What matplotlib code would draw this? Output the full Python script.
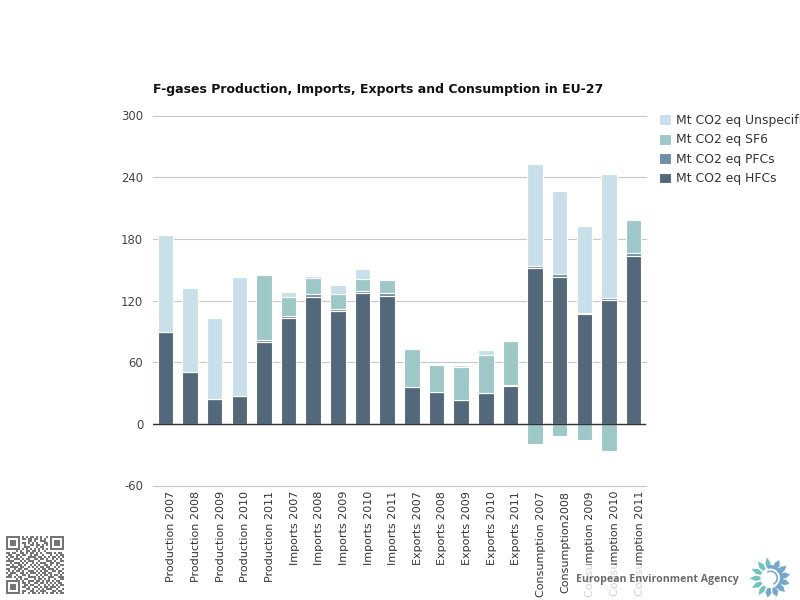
import matplotlib
matplotlib.use("Agg")
import matplotlib.pyplot as plt
import numpy as np

from matplotlib.patches import Circle, Polygon, Rectangle, Wedge
from matplotlib.transforms import ScaledTranslation

plt.rcParams["axes.unicode_minus"] = False

########################################################
# DATA
########################################################

categories = [
    "Production 2007", "Production 2008", "Production 2009", "Production 2010", "Production 2011",
    "Imports 2007", "Imports 2008", "Imports 2009", "Imports 2010", "Imports 2011",
    "Exports 2007", "Exports 2008", "Exports 2009", "Exports 2010", "Exports 2011",
    "Consumption 2007", "Consumption2008", "Consumption 2009", "Consumption 2010", "Consumption 2011",
]

hfcs = [89.3, 50.3, 24.0, 27.0, 79.5,
        103.0, 123.4, 109.7, 127.0, 124.4,
        35.7, 30.8, 23.0, 29.9, 36.7,
        151.6, 142.9, 106.8, 120.5, 163.3]
pfcs = [0.3, 0.3, 0.3, 0.3, 2.0,
        2.2, 3.2, 1.7, 2.0, 2.9,
        0.3, 0.3, 0.3, 0.3, 1.3,
        2.3, 3.1, 1.0, 1.9, 2.9]
sf6 = [0.0, 0.0, 0.0, 0.0, 63.0,
       17.8, 15.3, 14.9, 12.0, 12.3,
       36.4, 25.7, 31.6, 36.4, 42.2,
       -19.2, -11.4, -16.2, -26.0, 31.8]
unspecified = [93.8, 81.2, 78.3, 115.2, 0.0,
               5.0, 2.1, 8.4, 10.0, 0.0,
               1.0, 0.0, 2.6, 4.8, 0.0,
               98.7, 80.3, 84.4, 120.5, 0.0]

y_ticks = [-60, 0, 60, 120, 180, 240, 300]
series_names = ["Mt CO2 eq HFCs", "Mt CO2 eq PFCs", "Mt CO2 eq SF6", "Mt CO2 eq Unspecified"]

title_text = "F-gases Production, Imports, Exports and Consumption in EU-27"
agency_text = "European Environment Agency"

# rough QR pattern, one hex string per row of 29 blocks
qr_rows = [
    "1fd5a97f", "105b6a41", "17434e5d", "175aa35d", "1749b55d", "104e2c41", "1fd5557f",
    "00a6d200", "1b35a9d6", "0cd9644b", "16a3dab5", "09d66d2a", "1e2b91d3", "05d4ae6c",
    "1a69534b", "07b2ad94", "196c56e9", "0ad3ab36", "1735d6c5", "0c9a2b5a", "1d63d4e7",
    "00ac5a93", "1fd3b5ac", "105a6d56", "174d92ab", "175a6b74", "174695c9", "1059ae36", "1fd2d56b",
]

########################################################
# COLOURS
########################################################

COL_HFC = "#53687b"
COL_PFC = "#6f8ea5"
COL_SF6 = "#9ec8c7"
COL_UNS = "#c9e0ea"
COL_TEXT = "#333333"

########################################################
# FIGURE
########################################################

W, H = 800, 600

fig = plt.figure(figsize=(W / 100, H / 100), dpi=100)

ax = fig.add_axes([153 / W, 1 - 485.5 / H, 493 / W, 370 / H])

x = np.arange(len(categories))
hfcs_a = np.array(hfcs)
pfcs_a = np.array(pfcs)
sf6_a = np.array(sf6)
uns_a = np.array(unspecified)

bar_kw = dict(width=0.63, edgecolor="white", linewidth=0.8, zorder=3)

ax.bar(x, hfcs_a, color=COL_HFC, label=series_names[0], **bar_kw)
ax.bar(x, pfcs_a, bottom=hfcs_a, color=COL_PFC, label=series_names[1], **bar_kw)

# SF6 goes below the axis for consumption, so it only stacks when positive
sf6_bottom = np.where(sf6_a > 0, hfcs_a + pfcs_a, 0)
ax.bar(x, sf6_a, bottom=sf6_bottom, color=COL_SF6, label=series_names[2], **bar_kw)

uns_bottom = hfcs_a + pfcs_a + np.clip(sf6_a, 0, None)
ax.bar(x, uns_a, bottom=uns_bottom, color=COL_UNS, label=series_names[3], **bar_kw)

ax.set_xlim(-0.5, len(categories) - 0.5)
ax.set_ylim(-60, 300)

ax.set_yticks(y_ticks)
ax.set_xticks(x)
ax.set_xticklabels(categories, rotation=90, fontsize=8, color=COL_TEXT)
ax.tick_params(axis="y", length=0, pad=7, labelsize=8.4, labelcolor="#444444")
ax.tick_params(axis="x", length=0, pad=4)

# labels sit a little right of their bars in the reference
shift = ScaledTranslation(6 / 100, 0, fig.dpi_scale_trans)
for lab in ax.get_xticklabels():
    lab.set_transform(lab.get_transform() + shift)

ax.grid(axis="y", color="#c8c8c8", linewidth=0.8, zorder=0)
ax.set_axisbelow(True)
for line in ax.get_ygridlines():
    line.set_clip_on(False)

for side in ["top", "right", "left", "bottom"]:
    ax.spines[side].set_visible(False)

ax.axhline(0, color="#333333", linewidth=1, zorder=4)

fig.text(153 / W, 1 - 89.5 / H, title_text, fontsize=9.0, fontweight="bold",
         color="#111111", va="center", ha="left")

handles, labels = ax.get_legend_handles_labels()
ax.legend(
    handles[::-1],
    labels[::-1],
    loc="upper left",
    bbox_to_anchor=(659 / W, 1 - 114 / H),
    bbox_transform=fig.transFigure,
    frameon=False,
    fontsize=8.9,
    labelcolor=COL_TEXT,
    handlelength=0.97,
    handleheight=0.97,
    handletextpad=0.42,
    labelspacing=0.52,
    borderaxespad=0,
    borderpad=0,
)

########################################################
# FOOTER (QR code and agency logo)
########################################################

# helper for pixel coords, the reference is measured from the top
overlay = fig.add_axes([0, 0, 1, 1], zorder=5)
overlay.axis("off")
overlay.patch.set_alpha(0)

qr = np.array([[int(b) for b in format(int(r, 16), "032b")[-29:]] for r in qr_rows])
overlay.imshow(1 - qr, cmap="gray", vmin=-0.85, vmax=1, extent=(5.5, 63.5, 594.5, 536.5),
               interpolation="nearest", aspect="auto", zorder=2)
overlay.set_xlim(0, W)
overlay.set_ylim(H, 0)

# white veil of the logo image fades the labels beneath it
overlay.add_patch(Rectangle((576, 565), 224, 35, color="white", alpha=0.78, lw=0))

overlay.text(576, 579.5, agency_text, fontsize=7.6, fontweight="bold", family="Open Sans",
             color="#6b6b6b", va="center", ha="left", zorder=6)

# logo petals, teal to the left and blue to the right
cx, cy = 770.5, 578
for deg in range(100, 100 + 351, 27):
    a = np.deg2rad(deg)
    teal = deg <= 235
    col = "#72c2c0" if teal else "#74a7cd"
    u = np.array([np.cos(a), -np.sin(a)])
    n = np.array([-u[1], u[0]])
    c = np.array([cx, cy])
    reach = 21 if teal else 20
    half = 2.7 if teal else 3.0
    pts = [c + 10 * u + 1.5 * n, c + 15 * u + half * n, c + reach * u,
           c + 15 * u - half * n, c + 10 * u - 1.5 * n]
    overlay.add_patch(Polygon(pts, closed=True, color=col, lw=0, zorder=6))
overlay.add_patch(Wedge((cx, cy), 13, -105, 60, width=3.5, color="#74a7cd", lw=0, zorder=7))
overlay.add_patch(Wedge((cx, cy), 7.5, -120, 65, width=1.6, color="#74a7cd", lw=0, zorder=8))

fig.savefig("out.png", dpi=100)
